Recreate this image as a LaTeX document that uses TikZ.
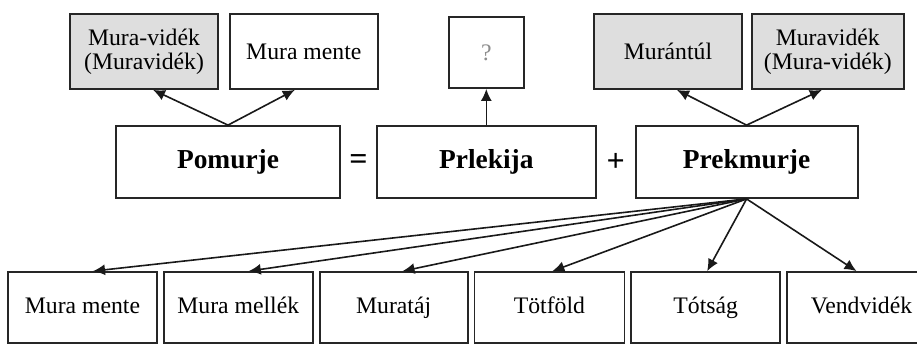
\documentclass[tikz,border=0pt]{standalone}
\usepackage{fontspec}
\setmainfont{Liberation Serif}
\usetikzlibrary{shapes, arrows}
\usetikzlibrary{arrows,calc,arrows.meta}
\usetikzlibrary{positioning}

\begin{document}
\begin{tikzpicture}[x=1pt,y=1pt]

	\definecolor{areagray}{rgb}{0.87,0.87,0.87}
	\definecolor{qmarkcolor}{rgb}{0.55,0.55,0.55}
	\tikzset{
		namebox/.style={draw=black!85, line width=0.9pt, fill=white, align=center, inner sep=0pt, minimum height=37.5pt, font=\fontsize{11.85}{12}\selectfont},
		mainbox/.style={draw=black!85, line width=0.9pt, fill=white, inner sep=0pt, text height=9.6pt, text depth=3pt, minimum height=36pt, font=\fontsize{13.7}{15}\selectfont\bfseries},
		partbox/.style={draw=black!85, line width=0.9pt, fill=white, inner sep=0pt, text height=8.3pt, text depth=2.6pt, minimum height=35.5pt, font=\fontsize{11.85}{12}\selectfont},
		pointer/.style={draw=black!90, line width=0.8pt, -{Latex[length=6pt,width=5.5pt]}}
	}

	\useasboundingbox (0,0) rectangle (458.5,172.5);

	% middle row
	\node(pomurje) at (114,91.5) [mainbox, minimum width=112pt]{Pomurje};
	\node(prlekija)[right=17.5pt of pomurje, mainbox, minimum width=109.5pt]{Prlekija};
	\node(prekmurje)[right=19pt of prlekija, mainbox, minimum width=111pt]{Prekmurje};
	\node(eqsign) at ($(pomurje.east)!0.5!(prlekija.west)$) [font=\fontsize{16}{16}\selectfont\bfseries]{=};
	\node(plussign) at ($(prlekija.east)!0.5!(prekmurje.west)$) [font=\fontsize{16}{16}\selectfont\bfseries]{+};

	% upper row
	\node(muravidek1) at (72,146.75) [namebox, fill=areagray, minimum width=74pt]{Mura-vidék\\(Muravidék)};
	\node(muramente1)[right=5pt of muravidek1, namebox, minimum width=74pt]{Mura mente};
	\node(qmark) at (prlekija |- 0,146.25) [namebox, minimum width=37.5pt, minimum height=35.5pt, text=qmarkcolor]{?};
	\node(murantul) at (334,146.75) [namebox, fill=areagray, minimum width=74pt]{Murántúl};
	\node(muravidek2)[right=4pt of murantul, namebox, fill=areagray, minimum width=76pt]{Muravidék\\(Mura-vidék)};

	% lower row
	\node(muramente2) at (41.25,18.75) [partbox, minimum width=74.5pt]{Mura mente};
	\node(muramellek)[right=2.5pt of muramente2, partbox, minimum width=74.5pt]{Mura mellék};
	\node(murataj)[right=2.5pt of muramellek, partbox, minimum width=74pt]{Muratáj};
	\node(totfold)[right=2.5pt of murataj, partbox, minimum width=75pt]{Tötföld};
	\node(totsag)[right=2.5pt of totfold, partbox, minimum width=74.5pt]{Tótság};
	\node(vendvidek)[right=2.5pt of totsag, partbox, minimum width=74.5pt]{Vendvidék};

	\draw[pointer] (pomurje.north) -- ([xshift=4.5pt]muravidek1.south);
	\draw[pointer] (pomurje.north) -- ([xshift=-4.5pt]muramente1.south);
	\draw[pointer] (prlekija.north) -- (qmark.south);
	\draw[pointer] (prekmurje.north) -- ([xshift=4.5pt]murantul.south);
	\draw[pointer] (prekmurje.north) -- ([xshift=-3pt]muravidek2.south);

	\draw[pointer] (prekmurje.south) -- ([xshift=5.25pt]muramente2.north);
	\draw[pointer] (prekmurje.south) -- ([xshift=5.25pt]muramellek.north);
	\draw[pointer] (prekmurje.south) -- ([xshift=4.5pt]murataj.north);
	\draw[pointer] (prekmurje.south) -- ([xshift=1.5pt]totfold.north);
	\draw[pointer] (prekmurje.south) -- ([xshift=0.75pt]totsag.north);
	\draw[pointer] (prekmurje.south) -- ([xshift=-2.5pt]vendvidek.north);

\end{tikzpicture}
\end{document}
